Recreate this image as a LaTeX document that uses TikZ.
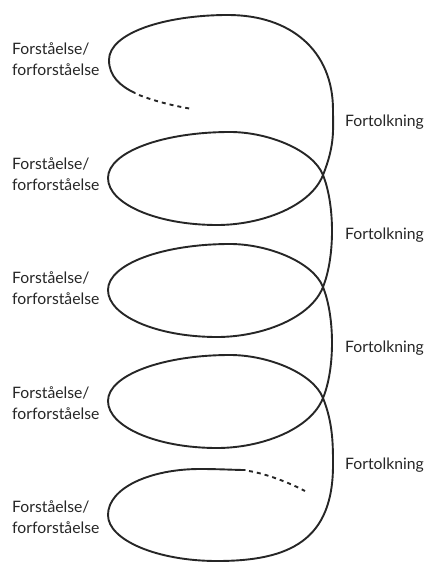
\documentclass[tikz,border=0pt]{standalone}
\usepackage{fontspec}
\setmainfont{Lato}
\begin{document}
\begin{tikzpicture}[x=1bp,y=-1bp,
  helix/.style={line width=1.9bp, draw=black!85, line cap=round},
  dots/.style={line width=1.9bp, draw=black!85, dash pattern=on 4bp off 4bp},
  lbl/.style={font=\fontsize{15.8}{21}\selectfont, text=black!85, inner sep=0pt, align=left, anchor=west}]
\useasboundingbox (0,0) rectangle (429,563);

% labels
\node[lbl] (f1) at (12,59)  {Forståelse/\\forforståelse};
\node[lbl] (f2) at (12,174) {Forståelse/\\forforståelse};
\node[lbl] (f3) at (12,288) {Forståelse/\\forforståelse};
\node[lbl] (f4) at (12,403) {Forståelse/\\forforståelse};
\node[lbl] (f5) at (12,517) {Forståelse/\\forforståelse};
\node[lbl] (t1) at (345,122) {Fortolkning};
\node[lbl] (t2) at (345,235) {Fortolkning};
\node[lbl] (t3) at (345,348) {Fortolkning};
\node[lbl] (t4) at (345,465) {Fortolkning};

% dashed ends
\draw[dots] (139,95) .. controls (157,102) and (175,106) .. (192,109);
\draw[dots] (249,471) .. controls (267,474) and (290,483) .. (305,491);

% helix
\draw[helix]
  (135,93) .. controls (120,86) and (109,76) .. (109,60)
  .. controls (109,33) and (165,15) .. (228,15)
  .. controls (290,15) and (333,50) .. (333,110)
  .. controls (333,130) and (335,145) .. (323,175)
  % loop 2 (cy=178)
  .. controls (311,206) and (262,225) .. (217,225)
  .. controls (157,225) and (108,204) .. (108,178)
  .. controls (108,152) and (163,132) .. (230,132)
  .. controls (268,132) and (313,150) .. (323,175)
  .. controls (335,205) and (335,257) .. (323,287)
  % loop 3 (cy=290)
  .. controls (311,318) and (262,337) .. (217,337)
  .. controls (157,337) and (108,316) .. (108,290)
  .. controls (108,264) and (163,244) .. (230,244)
  .. controls (268,244) and (313,262) .. (323,287)
  .. controls (335,317) and (335,369) .. (323,398)
  % loop 4 (cy=401)
  .. controls (311,429) and (262,448) .. (217,448)
  .. controls (157,448) and (108,427) .. (108,401)
  .. controls (108,375) and (163,355) .. (230,355)
  .. controls (268,355) and (313,373) .. (323,398)
  .. controls (333,423) and (333,445) .. (333,465)
  % loop 5
  .. controls (333,540) and (290,561) .. (217,561)
  .. controls (157,561) and (108,540) .. (108,515)
  .. controls (108,488) and (150,469) .. (200,469)
  .. controls (220,469) and (235,470) .. (245,470);
\end{tikzpicture}
\end{document}
